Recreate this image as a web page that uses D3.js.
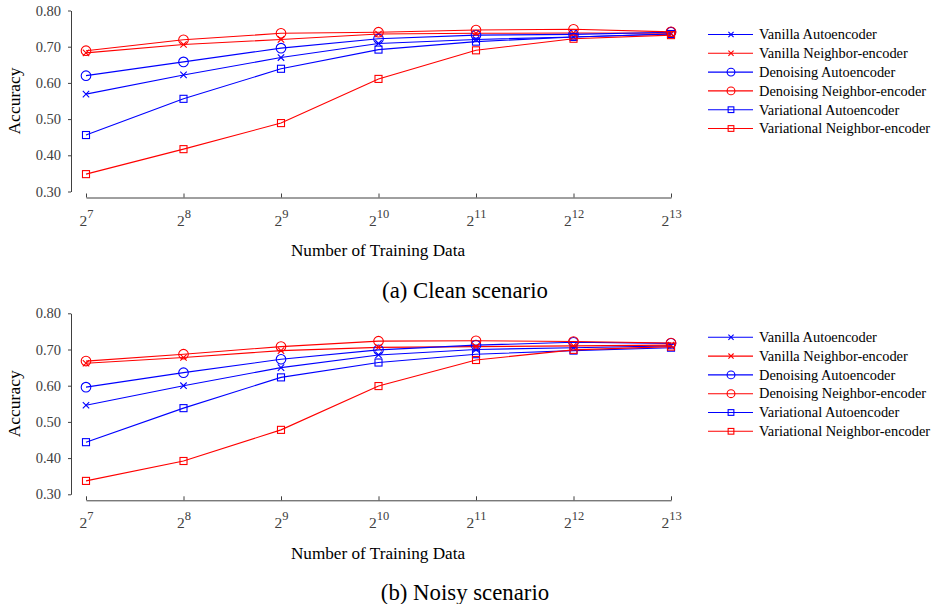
<!DOCTYPE html>
<html>
<head>
<meta charset="utf-8">
<script src="https://cdn.jsdelivr.net/npm/d3@7"></script>
<style>
  body { margin: 0; background: #fff; }
  svg text { font-family: "Liberation Serif", "Times New Roman", serif; }
</style>
</head>
<body>
<div id="chart"></div>
<script>
var exponents = [7, 8, 9, 10, 11, 12, 13];
var yTicks = [0.30, 0.40, 0.50, 0.60, 0.70, 0.80];
var seriesNames = [
  "Vanilla Autoencoder",
  "Vanilla Neighbor-encoder",
  "Denoising Autoencoder",
  "Denoising Neighbor-encoder",
  "Variational Autoencoder",
  "Variational Neighbor-encoder"
];
var seriesColors = ["#0000ff", "#ff0000", "#0000ff", "#ff0000", "#0000ff", "#ff0000"];
var seriesMarkers = ["x", "x", "circle", "circle", "square", "square"];

// (a) clean scenario
var cleanVanillaAE = [0.569, 0.622, 0.670, 0.709, 0.720, 0.727, 0.735];
var cleanVanillaNE = [0.683, 0.706, 0.720, 0.735, 0.737, 0.738, 0.737];
var cleanDenoisingAE = [0.620, 0.658, 0.696, 0.722, 0.732, 0.734, 0.740];
var cleanDenoisingNE = [0.689, 0.719, 0.737, 0.740, 0.746, 0.748, 0.741];
var cleanVariationalAE = [0.456, 0.556, 0.639, 0.692, 0.714, 0.727, 0.735];
var cleanVariationalNE = [0.348, 0.417, 0.489, 0.611, 0.690, 0.722, 0.732];

// (b) noisy scenario
var noisyVanillaAE = [0.546, 0.600, 0.650, 0.685, 0.700, 0.705, 0.710];
var noisyVanillaNE = [0.662, 0.678, 0.697, 0.706, 0.708, 0.710, 0.712];
var noisyDenoisingAE = [0.596, 0.636, 0.673, 0.699, 0.712, 0.720, 0.717];
var noisyDenoisingNE = [0.668, 0.687, 0.708, 0.723, 0.724, 0.722, 0.718];
var noisyVariationalAE = [0.444, 0.538, 0.623, 0.664, 0.687, 0.697, 0.705];
var noisyVariationalNE = [0.337, 0.392, 0.478, 0.599, 0.671, 0.699, 0.708];

var svg = d3.select("#chart")
  .append("svg")
  .attr("width", 933)
  .attr("height", 604);

function drawMarker(g, type, cx, cy, color, s) {
  if (type === "x") {
    g.append("path")
      .attr("d", "M" + (cx - s) + "," + (cy - s) + "L" + (cx + s) + "," + (cy + s) +
                 "M" + (cx - s) + "," + (cy + s) + "L" + (cx + s) + "," + (cy - s))
      .attr("stroke", color).attr("stroke-width", 1.1).attr("fill", "none");
  } else if (type === "circle") {
    g.append("circle")
      .attr("cx", cx).attr("cy", cy).attr("r", s * 1.5)
      .attr("stroke", color).attr("stroke-width", 1.1).attr("fill", "none");
  } else {
    g.append("rect")
      .attr("x", cx - s * 1.1).attr("y", cy - s * 1.1)
      .attr("width", s * 2.2).attr("height", s * 2.2)
      .attr("stroke", color).attr("stroke-width", 1.1).attr("fill", "none");
  }
}

function drawPanel(top, series, caption) {
  var g = svg.append("g").attr("transform", "translate(0," + top + ")");

  var x = d3.scaleLinear().domain([7, 13]).range([86, 671]);
  var y = d3.scaleLinear().domain([0.3, 0.8]).range([181, 0]);
  var axisColor = "#404040";

  // y axis
  var yAxis = g.append("g")
    .attr("transform", "translate(71,0)")
    .call(d3.axisLeft(y).tickValues(yTicks).tickSize(3).tickSizeOuter(0)
      .tickFormat(d3.format(".2f")));
  yAxis.select(".domain").attr("stroke", axisColor);
  yAxis.selectAll(".tick line").attr("stroke", axisColor);
  yAxis.selectAll("text")
    .attr("x", -10)
    .attr("fill", axisColor)
    .style("font-size", "14.5px");

  // x axis (offset below)
  var xAxis = g.append("g")
    .attr("transform", "translate(0,187)")
    .call(d3.axisBottom(x).tickValues(exponents).tickSizeInner(-4).tickSizeOuter(0)
      .tickFormat(""));
  xAxis.select(".domain").attr("stroke", axisColor);
  xAxis.selectAll(".tick line").attr("stroke", axisColor);
  xAxis.selectAll(".tick").append("text")
    .attr("y", 28)
    .attr("fill", axisColor)
    .attr("text-anchor", "middle")
    .style("font-size", "15.5px")
    .each(function(d) {
      var t = d3.select(this);
      t.append("tspan").text("2");
      t.append("tspan").attr("dy", -8).style("font-size", "12.5px").text(d);
    });

  // axis titles
  g.append("text")
    .attr("transform", "translate(20," + y(0.55) + ") rotate(-90)")
    .attr("text-anchor", "middle")
    .style("font-size", "17.5px")
    .text("Accuracy");

  g.append("text")
    .attr("x", 378)
    .attr("y", 245.5)
    .attr("text-anchor", "middle")
    .style("font-size", "17.2px")
    .text("Number of Training Data");

  g.append("text")
    .attr("x", 465)
    .attr("y", 287)
    .attr("text-anchor", "middle")
    .style("font-size", "22.8px")
    .text(caption);

  // lines and markers
  var line = d3.line().x((d, i) => x(exponents[i])).y(d => y(d));
  series.forEach(function(values, k) {
    var sg = g.append("g");
    sg.append("path")
      .attr("d", line(values))
      .attr("fill", "none")
      .attr("stroke", seriesColors[k])
      .attr("stroke-width", 1.1);
    values.forEach(function(v, i) {
      drawMarker(sg, seriesMarkers[k], x(exponents[i]), y(v), seriesColors[k], 3.2);
    });
  });

  // legend
  var legend = g.append("g").attr("transform", "translate(0,24)");
  seriesNames.forEach(function(name, k) {
    var ly = k * 18.8;
    legend.append("line")
      .attr("x1", 708).attr("x2", 753)
      .attr("y1", ly).attr("y2", ly)
      .attr("stroke", seriesColors[k]).attr("stroke-width", 1.1);
    drawMarker(legend, seriesMarkers[k], 731, ly, seriesColors[k], 2.6);
    legend.append("text")
      .attr("x", 759)
      .attr("y", ly + 4.8)
      .style("font-size", "14.4px")
      .text(name);
  });
}

drawPanel(10.5,
  [cleanVanillaAE, cleanVanillaNE, cleanDenoisingAE, cleanDenoisingNE, cleanVariationalAE, cleanVariationalNE],
  "(a) Clean scenario");

drawPanel(313.3,
  [noisyVanillaAE, noisyVanillaNE, noisyDenoisingAE, noisyDenoisingNE, noisyVariationalAE, noisyVariationalNE],
  "(b) Noisy scenario");
</script>
</body>
</html>
